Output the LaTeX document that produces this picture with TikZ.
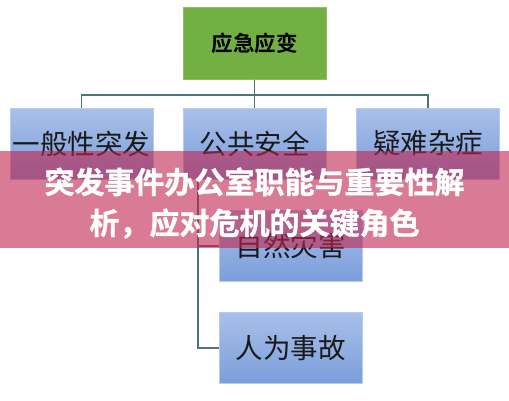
\documentclass[tikz,border=0pt]{standalone}
\usepackage{fontspec}
\newfontfamily\cjk{Noto Sans CJK SC}
\newfontfamily\cjkb{Noto Sans CJK SC Bold}
\newfontfamily\cjkh[FakeBold=1.2]{Noto Sans CJK SC Bold}
\definecolor{boxgreen}{HTML}{72B043}
\definecolor{greenedge}{HTML}{8CC063}
\definecolor{bluetop}{HTML}{A9C0E9}
\definecolor{bluebot}{HTML}{7A9EDB}
\definecolor{blueedge}{HTML}{B9CBEC}
\definecolor{linkcol}{HTML}{4E7475}
\definecolor{bannercol}{RGB}{192,36,78}
\tikzset{
  topbox/.style={draw=greenedge, line width=1pt, fill=boxgreen, minimum width=143pt, minimum height=72pt, inner sep=0pt, font=\cjkb\fontsize{21.5}{24}\selectfont},
  bluebox/.style={draw=blueedge, line width=1pt, top color=bluetop, bottom color=bluebot, minimum width=143pt, minimum height=71pt, inner sep=0pt, font=\cjk\fontsize{27.5}{30}\selectfont, text=black!90},
  link/.style={draw=linkcol, line width=1.4pt},
  bannertext/.style={text=white, font=\cjkh\fontsize{30}{41}\selectfont, align=center, inner sep=0pt}
}
\begin{document}
\begin{tikzpicture}[x=1pt,y=-1pt]
\useasboundingbox (0,0) rectangle (509,400);
\fill[white] (0,0) rectangle (509,400);
\node[topbox] (top) at (254.5,43) {应急应变};
\node[bluebox] (b1) at (81.5,143.5) {一般性突发};
\node[bluebox] (b2) at (254.5,143.5) {公共安全};
\node[bluebox] (b3) at (428,143.5) {疑难杂症};
\node[bluebox] (b4) at (290.5,246) {自然灾害};
\node[bluebox] (b5) at (290.5,348) {人为事故};
\coordinate (hub) at (254.5,95);
\coordinate (sub) at (198,179);
\draw[link] (top.south) -- (hub);
\draw[link] (hub) -| (b1.north);
\draw[link] (hub) -| (b3.north);
\draw[link] (hub) -- (b2.north);
\draw[link] (sub) |- (b4.west);
\draw[link] (sub) |- (b5.west);
\fill[bannercol, opacity=0.6] (0,151) rectangle (509,248);
\node[bannertext] (title) at (254.5,203) {突发事件办公室职能与重要性解\\析，应对危机的关键角色};
\end{tikzpicture}
\end{document}
